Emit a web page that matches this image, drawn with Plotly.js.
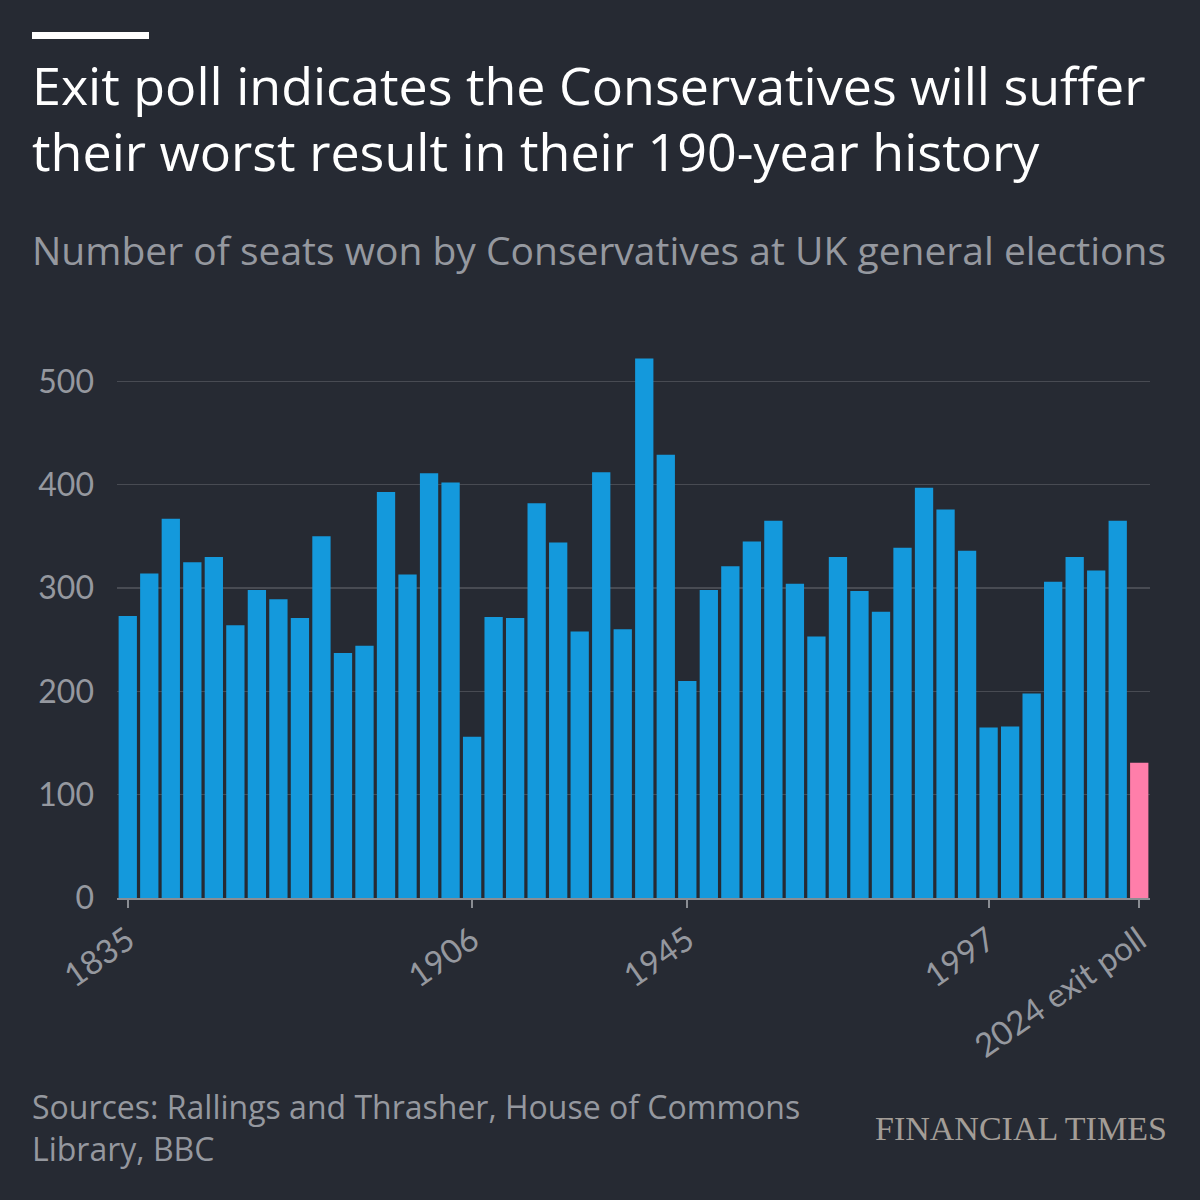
<!DOCTYPE html>
<html>
<head>
<meta charset="utf-8">
<script src="https://cdn.plot.ly/plotly-3.0.1.min.js"></script>
<style>
  html, body { margin: 0; padding: 0; background: #262a33; }
  #chart { width: 1200px; height: 1200px; }
</style>
</head>
<body>
<div id="chart"></div>
<script>
// Conservative seats won at each UK general election, 1835 to the 2024 exit poll
const elections = ['1835','1837','1841','1847','1852','1857','1859','1865','1868','1874',
  '1880','1885','1886','1892','1895','1900','1906','1910 Jan','1910 Dec','1918',
  '1922','1923','1924','1929','1931','1935','1945','1950','1951','1955',
  '1959','1964','1966','1970','1974 Feb','1974 Oct','1979','1983','1987','1992',
  '1997','2001','2005','2010','2015','2017','2019','2024'];
const seats = [273,314,367,325,330,264,298,289,271,350,
  237,244,393,313,411,402,156,272,271,382,
  344,258,412,260,522,429,210,298,321,345,
  365,304,253,330,297,277,339,397,376,336,
  165,166,198,306,330,317,365,131];
const exitPollElection = '2024';

const tickElections = ['1835','1906','1945','1997','2024'];
const tickLabels = ['1835','1906','1945','1997','2024 exit poll'];
const yTicks = [0,100,200,300,400,500];

const titleLines = ['Exit poll indicates the Conservatives will suffer',
                    'their worst result in their 190-year history'];
const subtitleText = 'Number of seats won by Conservatives at UK general elections';
const sourceText = 'Sources: Rallings and Thrasher, House of Commons<br>Library, BBC';
const brandText = 'FINANCIAL TIMES';

// Page geometry (pixels)
const W = 1200, H = 1200;
const M = { l: 117, r: 50, t: 340, b: 302 };
const plotW = W - M.l - M.r, plotH = H - M.t - M.b;
const px = x => (x - M.l) / plotW;          // pixel x -> paper x
const py = y => (H - M.b - y) / plotH;      // pixel y -> paper y

const BG = '#262a33';
const BLUE = '#1499dc';
const PINK = '#ff7eaa';
const GREY = '#95989f';
const SANS = '"Open Sans", Lato, sans-serif';
const TICKS = 'Lato, "Open Sans", sans-serif';

const barColors = elections.map(e => e === exitPollElection ? PINK : BLUE);

const trace = {
  type: 'bar',
  x: elections,
  y: seats,
  marker: { color: barColors, line: { width: 0 } },
  hoverinfo: 'x+y'
};

// Headline lines, each centred on its own row
const titleRows = [85, 150];
const titleAnnotations = titleLines.map((line, i) => ({
  text: line, xref: 'paper', yref: 'paper',
  x: px(30), xanchor: 'left', y: py(titleRows[i]), yanchor: 'middle',
  showarrow: false, font: { family: SANS, size: 52, color: '#ffffff' }
}));

const layout = {
  width: W, height: H,
  margin: M,
  paper_bgcolor: BG,
  plot_bgcolor: BG,
  bargap: 0.15,
  showlegend: false,
  font: { family: SANS, color: GREY },
  xaxis: {
    type: 'category',
    range: [-0.5, elections.length - 0.5],
    tickmode: 'array',
    tickvals: tickElections,
    ticktext: tickLabels,
    tickangle: -35,
    ticks: 'outside',
    ticklen: 8,
    tickwidth: 2,
    tickcolor: '#8a8d93',
    showline: true,
    linecolor: '#8a8d93',
    linewidth: 2,
    showgrid: false,
    zeroline: false,
    tickfont: { family: TICKS, size: 33, color: GREY },
    fixedrange: true
  },
  yaxis: {
    range: [0, 540],
    tickmode: 'array',
    tickvals: yTicks,
    ticks: '',
    ticklabelstandoff: 22,
    showgrid: true,
    gridcolor: 'rgba(160,160,170,0.28)',
    gridwidth: 1.5,
    zeroline: false,
    showline: false,
    layer: 'above traces',
    tickfont: { family: TICKS, size: 32, color: GREY },
    fixedrange: true
  },
  shapes: [
    { type: 'rect', xref: 'paper', yref: 'paper',
      x0: px(32), x1: px(149), y0: py(39), y1: py(32),
      fillcolor: '#ffffff', line: { width: 0 } }
  ],
  annotations: titleAnnotations.concat([
    { text: subtitleText, xref: 'paper', yref: 'paper',
      x: px(30), xanchor: 'left', y: py(250), yanchor: 'middle',
      showarrow: false, font: { family: SANS, size: 39, color: GREY } },
    { text: sourceText, xref: 'paper', yref: 'paper', align: 'left',
      x: px(30), xanchor: 'left', y: py(1127), yanchor: 'middle',
      showarrow: false, font: { family: SANS, size: 32, color: GREY } },
    { text: brandText, xref: 'paper', yref: 'paper',
      x: px(1169), xanchor: 'right', y: py(1128), yanchor: 'middle',
      showarrow: false,
      font: { family: '"Liberation Serif", "DejaVu Serif", serif', size: 34, color: '#a39d97' } }
  ])
};

Plotly.newPlot('chart', [trace], layout, { displayModeBar: false, staticPlot: true });
</script>
</body>
</html>
